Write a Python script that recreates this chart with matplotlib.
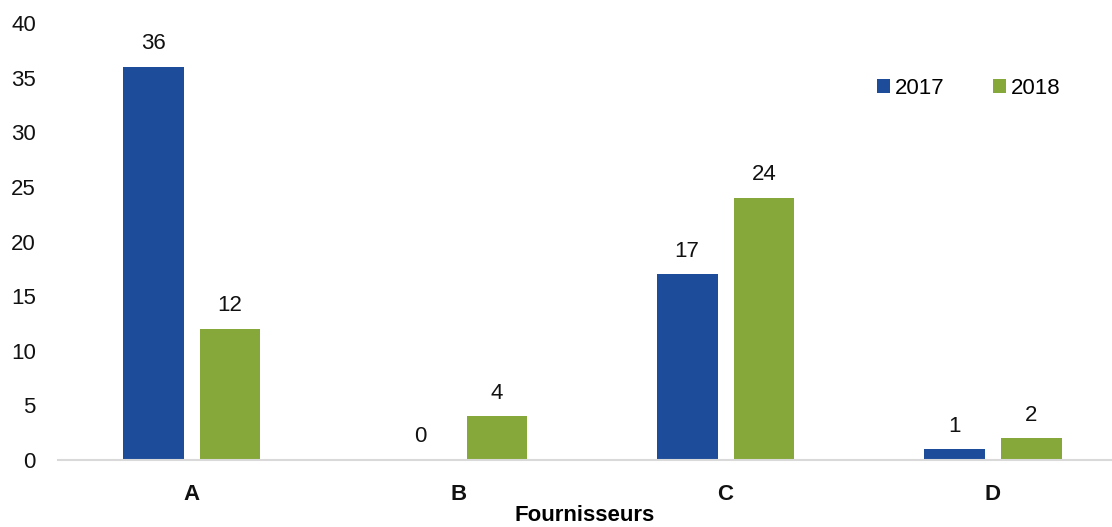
import numpy as np
import matplotlib
matplotlib.use("Agg")
import matplotlib.pyplot as plt

plt.rcParams['font.family'] = ['Liberation Sans', 'DejaVu Sans']

categories = ['A', 'B', 'C', 'D']
vals_2017 = [36, 0, 17, 1]
vals_2018 = [12, 4, 24, 2]
series_names = ['2017', '2018']
yticks = [0, 5, 10, 15, 20, 25, 30, 35, 40]

blue = '#1c4c9a'
green = '#86a83b'

W, H = 1112, 527
fig = plt.figure(figsize=(W / 100, H / 100), dpi=100)
ax = fig.add_axes([58 / W, (H - 460) / H, (W - 58) / W, (460 - 23) / H])

x = np.arange(len(categories))
w = 0.228
off = 0.144
b1 = ax.bar(x - off, vals_2017, w, color=blue, label=series_names[0])
b2 = ax.bar(x + off, vals_2018, w, color=green, label=series_names[1])

for bars in (b1, b2):
    for rect in bars:
        h = rect.get_height()
        ax.annotate(f'{h:g}', (rect.get_x() + rect.get_width() / 2, h),
                    xytext=(0, 9), textcoords='offset points',
                    ha='center', va='bottom', fontsize=16, color='#111111')

ax.set_xlim(-0.5, 3.447)
ax.set_ylim(0, 40)
ax.set_yticks(yticks)
ax.set_xticks(x)
ax.set_xticklabels(categories, fontweight='bold')
ax.tick_params(axis='both', length=0, labelsize=16, colors='#111111')
ax.tick_params(axis='x', pad=17)
ax.tick_params(axis='y', pad=16)

for s in ['top', 'right', 'left']:
    ax.spines[s].set_visible(False)
ax.spines['bottom'].set_color('#d9d9d9')
ax.spines['bottom'].set_linewidth(1.5)

ax.set_xlabel('Fournisseurs', fontsize=16, fontweight='bold', labelpad=0)

ax.legend(loc='upper right', bbox_to_anchor=(0.97, 0.92), ncol=2, frameon=False,
          fontsize=16, handlelength=0.6, handleheight=0.6, handletextpad=0.2,
          columnspacing=2.2)

fig.savefig('out.png', dpi=100)
